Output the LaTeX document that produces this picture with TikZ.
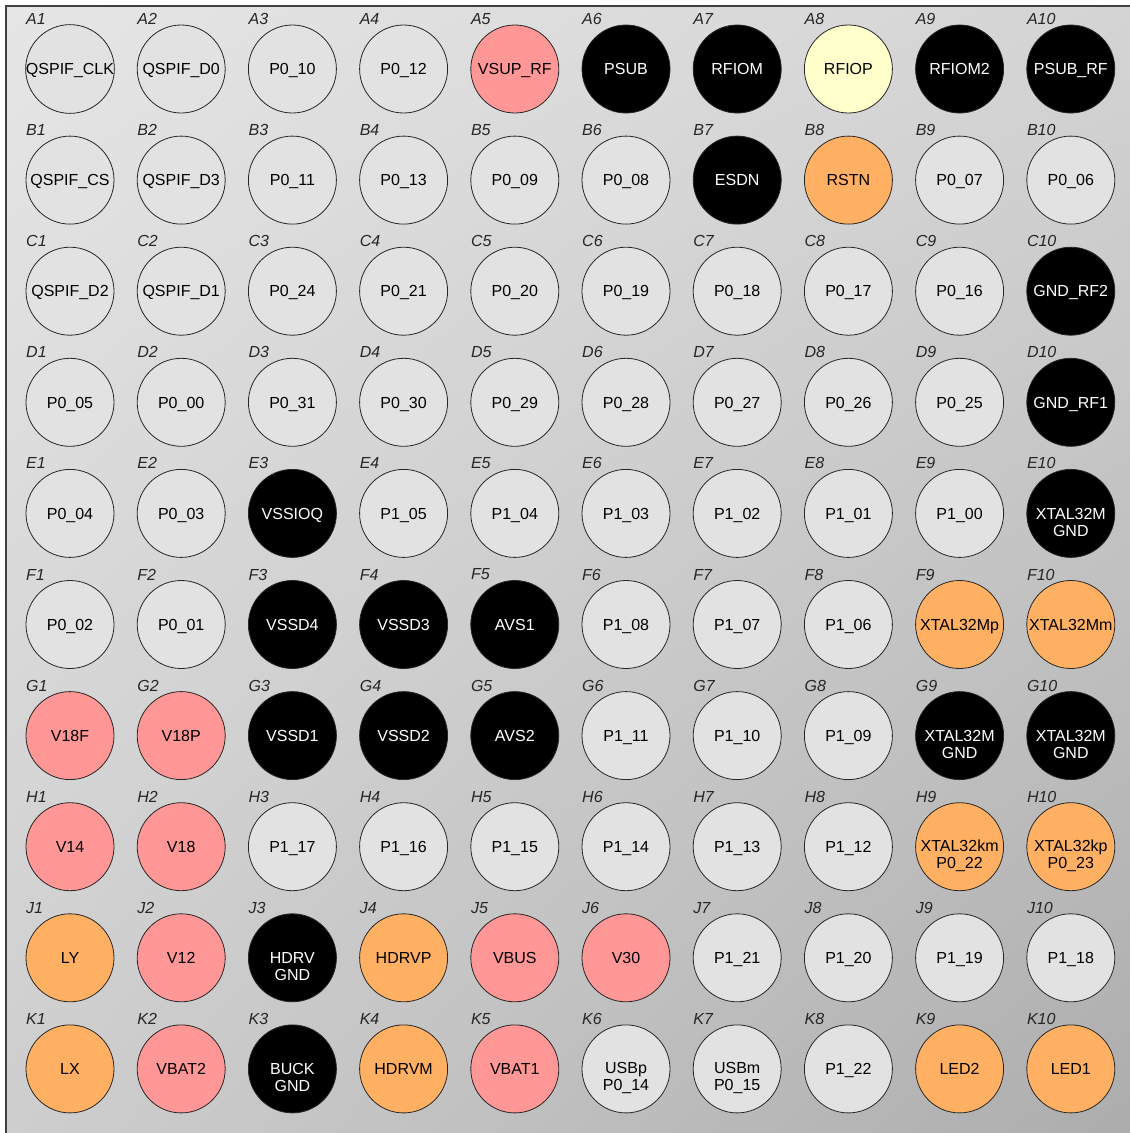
\documentclass[tikz,border=0pt]{standalone}
\usepackage{fontspec}
\setmainfont{Liberation Sans}
\usetikzlibrary{calc,shadings}
\definecolor{bgUL}{HTML}{E6E6E6}
\definecolor{bgUR}{HTML}{D4D4D4}
\definecolor{bgLL}{HTML}{CECECE}
\definecolor{bgLR}{HTML}{ADADAD}
\definecolor{pinGray}{HTML}{E2E2E2}
\definecolor{pinPink}{HTML}{FF9797}
\definecolor{pinOrange}{HTML}{FFB062}
\definecolor{pinYellow}{HTML}{FFFFCC}
\definecolor{frameCol}{HTML}{404040}
\tikzset{
  pinbase/.style={circle, draw=black!85, line width=0.8pt, minimum size=88pt, inner sep=0pt,
    font=\fontsize{16}{17}\selectfont, text height=11.5pt, text depth=0pt, text=black},
  pg/.style={pinbase, fill=pinGray},
  pp/.style={pinbase, fill=pinPink},
  po/.style={pinbase, fill=pinOrange},
  py/.style={pinbase, fill=pinYellow},
  pb/.style={pinbase, fill=black, text=white},
  twotext/.style={inner sep=0pt, align=center, font=\fontsize{16}{17}\selectfont},
  lab/.style={inner sep=0pt, anchor=west, font=\fontsize{16}{16}\selectfont\itshape, text=black!85}
}
\newcommand\pin[5]{%
  \node[#3] (p#5) at ({70+111.2*(#2-1)},{69+111.1*#1}) {#4};
  \node[lab] (l#5) at ({26+111.2*(#2-1)},{19+111.1*#1}) {#5};
}
\newcommand\pintwo[6]{%
  \node[#3] (p#5) at ({70+111.2*(#2-1)},{69+111.1*#1}) {};
  \node[twotext, text=#6] (t#5) at ($(p#5)+(0,9)$) {#4};
  \node[lab] (l#5) at ({26+111.2*(#2-1)},{19+111.1*#1}) {#5};
}
\begin{document}
\begin{tikzpicture}[x=1pt,y=-1pt]
\useasboundingbox (0,0) rectangle (1130,1133);
\fill[white] (0,0) rectangle (1130,1133);
\shade[upper left=bgUL, upper right=bgUR, lower left=bgLL, lower right=bgLR] (6,6) rectangle (1130,1133);
\draw[frameCol, line width=1.5pt] (6,1133) -- (6,6) -- (1130,6);
% Row A
\pin{0}{1}{pg}{QSPIF\_CLK}{A1}
\pin{0}{2}{pg}{QSPIF\_D0}{A2}
\pin{0}{3}{pg}{P0\_10}{A3}
\pin{0}{4}{pg}{P0\_12}{A4}
\pin{0}{5}{pp}{VSUP\_RF}{A5}
\pin{0}{6}{pb}{PSUB}{A6}
\pin{0}{7}{pb}{RFIOM}{A7}
\pin{0}{8}{py}{RFIOP}{A8}
\pin{0}{9}{pb}{RFIOM2}{A9}
\pin{0}{10}{pb}{PSUB\_RF}{A10}
% Row B
\pin{1}{1}{pg}{QSPIF\_CS}{B1}
\pin{1}{2}{pg}{QSPIF\_D3}{B2}
\pin{1}{3}{pg}{P0\_11}{B3}
\pin{1}{4}{pg}{P0\_13}{B4}
\pin{1}{5}{pg}{P0\_09}{B5}
\pin{1}{6}{pg}{P0\_08}{B6}
\pin{1}{7}{pb}{ESDN}{B7}
\pin{1}{8}{po}{RSTN}{B8}
\pin{1}{9}{pg}{P0\_07}{B9}
\pin{1}{10}{pg}{P0\_06}{B10}
% Row C
\pin{2}{1}{pg}{QSPIF\_D2}{C1}
\pin{2}{2}{pg}{QSPIF\_D1}{C2}
\pin{2}{3}{pg}{P0\_24}{C3}
\pin{2}{4}{pg}{P0\_21}{C4}
\pin{2}{5}{pg}{P0\_20}{C5}
\pin{2}{6}{pg}{P0\_19}{C6}
\pin{2}{7}{pg}{P0\_18}{C7}
\pin{2}{8}{pg}{P0\_17}{C8}
\pin{2}{9}{pg}{P0\_16}{C9}
\pin{2}{10}{pb}{GND\_RF2}{C10}
% Row D
\pin{3}{1}{pg}{P0\_05}{D1}
\pin{3}{2}{pg}{P0\_00}{D2}
\pin{3}{3}{pg}{P0\_31}{D3}
\pin{3}{4}{pg}{P0\_30}{D4}
\pin{3}{5}{pg}{P0\_29}{D5}
\pin{3}{6}{pg}{P0\_28}{D6}
\pin{3}{7}{pg}{P0\_27}{D7}
\pin{3}{8}{pg}{P0\_26}{D8}
\pin{3}{9}{pg}{P0\_25}{D9}
\pin{3}{10}{pb}{GND\_RF1}{D10}
% Row E
\pin{4}{1}{pg}{P0\_04}{E1}
\pin{4}{2}{pg}{P0\_03}{E2}
\pin{4}{3}{pb}{VSSIOQ}{E3}
\pin{4}{4}{pg}{P1\_05}{E4}
\pin{4}{5}{pg}{P1\_04}{E5}
\pin{4}{6}{pg}{P1\_03}{E6}
\pin{4}{7}{pg}{P1\_02}{E7}
\pin{4}{8}{pg}{P1\_01}{E8}
\pin{4}{9}{pg}{P1\_00}{E9}
\pintwo{4}{10}{pb}{XTAL32M\\GND}{E10}{white}
% Row F
\pin{5}{1}{pg}{P0\_02}{F1}
\pin{5}{2}{pg}{P0\_01}{F2}
\pin{5}{3}{pb}{VSSD4}{F3}
\pin{5}{4}{pb}{VSSD3}{F4}
\pin{5}{5}{pb}{AVS1}{F5}
\pin{5}{6}{pg}{P1\_08}{F6}
\pin{5}{7}{pg}{P1\_07}{F7}
\pin{5}{8}{pg}{P1\_06}{F8}
\pin{5}{9}{po}{XTAL32Mp}{F9}
\pin{5}{10}{po}{XTAL32Mm}{F10}
% Row G
\pin{6}{1}{pp}{V18F}{G1}
\pin{6}{2}{pp}{V18P}{G2}
\pin{6}{3}{pb}{VSSD1}{G3}
\pin{6}{4}{pb}{VSSD2}{G4}
\pin{6}{5}{pb}{AVS2}{G5}
\pin{6}{6}{pg}{P1\_11}{G6}
\pin{6}{7}{pg}{P1\_10}{G7}
\pin{6}{8}{pg}{P1\_09}{G8}
\pintwo{6}{9}{pb}{XTAL32M\\GND}{G9}{white}
\pintwo{6}{10}{pb}{XTAL32M\\GND}{G10}{white}
% Row H
\pin{7}{1}{pp}{V14}{H1}
\pin{7}{2}{pp}{V18}{H2}
\pin{7}{3}{pg}{P1\_17}{H3}
\pin{7}{4}{pg}{P1\_16}{H4}
\pin{7}{5}{pg}{P1\_15}{H5}
\pin{7}{6}{pg}{P1\_14}{H6}
\pin{7}{7}{pg}{P1\_13}{H7}
\pin{7}{8}{pg}{P1\_12}{H8}
\pintwo{7}{9}{po}{XTAL32km\\P0\_22}{H9}{black}
\pintwo{7}{10}{po}{XTAL32kp\\P0\_23}{H10}{black}
% Row J
\pin{8}{1}{po}{LY}{J1}
\pin{8}{2}{pp}{V12}{J2}
\pintwo{8}{3}{pb}{HDRV\\GND}{J3}{white}
\pin{8}{4}{po}{HDRVP}{J4}
\pin{8}{5}{pp}{VBUS}{J5}
\pin{8}{6}{pp}{V30}{J6}
\pin{8}{7}{pg}{P1\_21}{J7}
\pin{8}{8}{pg}{P1\_20}{J8}
\pin{8}{9}{pg}{P1\_19}{J9}
\pin{8}{10}{pg}{P1\_18}{J10}
% Row K
\pin{9}{1}{po}{LX}{K1}
\pin{9}{2}{pp}{VBAT2}{K2}
\pintwo{9}{3}{pb}{BUCK\\GND}{K3}{white}
\pin{9}{4}{po}{HDRVM}{K4}
\pin{9}{5}{pp}{VBAT1}{K5}
\pintwo{9}{6}{pg}{USBp\\P0\_14}{K6}{black}
\pintwo{9}{7}{pg}{USBm\\P0\_15}{K7}{black}
\pin{9}{8}{pg}{P1\_22}{K8}
\pin{9}{9}{po}{LED2}{K9}
\pin{9}{10}{po}{LED1}{K10}
\end{tikzpicture}
\end{document}
